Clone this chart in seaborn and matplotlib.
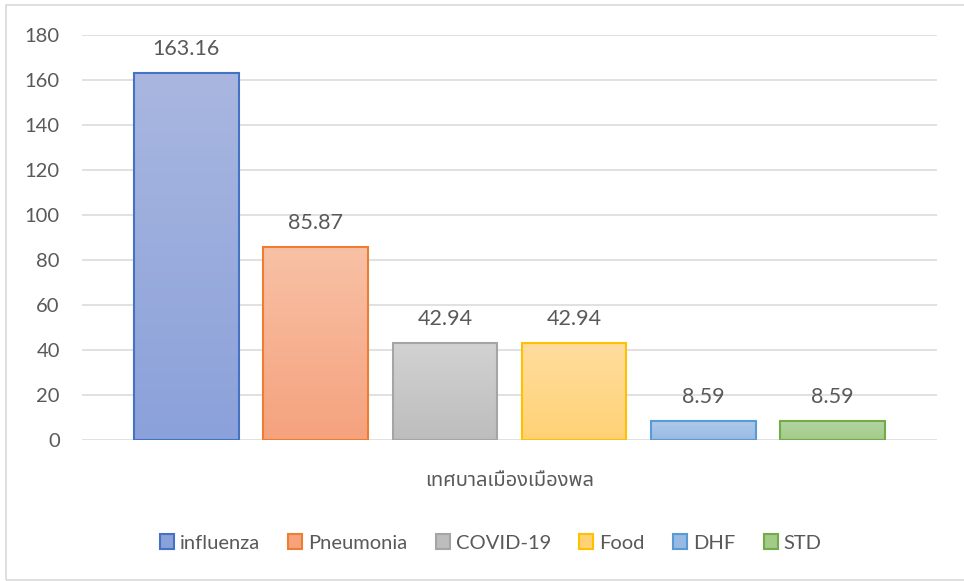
import numpy as np
import pandas as pd
import matplotlib
matplotlib.use("Agg")
import matplotlib.pyplot as plt
from matplotlib.colors import LinearSegmentedColormap
from matplotlib.patches import Patch, Rectangle
import seaborn as sns

# data
category = ["เทศบาลเมืองเมืองพล"]
diseases = ["influenza", "Pneumonia", "COVID-19", "Food", "DHF", "STD"]
rates = [163.16, 85.87, 42.94, 42.94, 8.59, 8.59]

edge_colors = ["#4472C4", "#ED7D31", "#A5A5A5", "#FFC000", "#5B9BD5", "#70AD47"]
top_colors = ["#A9B7E0", "#F8C1A6", "#D2D2D2", "#FFDD9E", "#B1CBEB", "#B5D5A3"]
bottom_colors = ["#8BA1DA", "#F5A27D", "#BDBDBD", "#FFD275", "#98BAE3", "#A2CA89"]

text_color = "#595959"
grid_color = "#D9D9D9"

df = pd.DataFrame({"area": category * len(diseases),
                   "disease": diseases,
                   "rate": rates})

sns.set_theme(style="white")
plt.rcParams["font.family"] = ["Lato", "Noto Sans Thai", "Loma", "Garuda",
                               "Norasi", "DejaVu Sans"]

fig = plt.figure(figsize=(9.64, 5.81), dpi=100)
ax = fig.add_axes([0.0851, 0.2427, 0.972 - 0.0851, 0.6971])

sns.barplot(data=df, x="area", y="rate", hue="disease", hue_order=diseases,
            palette=bottom_colors, width=0.907, gap=0.19, legend=False,
            ax=ax)

ax.yaxis.grid(True, color=grid_color, linewidth=1.1)
ax.set_axisbelow(True)
for s in ax.spines.values():
    s.set_visible(False)

# gradient fill inside each bar (lighter at the top)
for i, cont in enumerate(ax.containers):
    for bar in cont:
        x, w, h = bar.get_x(), bar.get_width(), bar.get_height()
        cmap = LinearSegmentedColormap.from_list(
            "g%d" % i, [bottom_colors[i], top_colors[i]])
        grad = np.linspace(0, 1, 256).reshape(-1, 1)
        im = ax.imshow(grad, cmap=cmap, origin="lower", aspect="auto",
                       extent=[x, x + w, 0, h], zorder=1.5)
        im.set_clip_path(bar)
        bar.set_facecolor("none")
        bar.set_edgecolor(edge_colors[i])
        bar.set_linewidth(1.5)
        bar.set_zorder(2)
    ax.bar_label(cont, labels=["%.2f" % v for v in cont.datavalues],
                 padding=10, fontsize=15.5, color=text_color)

ax.set_ylim(0, 180)
ax.set_xlim(-0.5, 0.5)
ax.set_yticks(range(0, 181, 20))
ax.tick_params(axis="y", length=0, pad=16, labelsize=14.5,
               labelcolor=text_color)
ax.tick_params(axis="x", length=0, pad=23, labelsize=14.5,
               labelcolor=text_color)
ax.set_xlabel("")
ax.set_ylabel("")

handles = [Patch(facecolor=bottom_colors[i], edgecolor=edge_colors[i],
                 linewidth=1.5, label=d) for i, d in enumerate(diseases)]
fig.legend(handles=handles, loc="center", ncol=6,
           bbox_to_anchor=(0.509, 0.0654), frameon=False,
           fontsize=14.5, labelcolor=text_color, handlelength=0.7,
           handleheight=0.7, handletextpad=0.3, columnspacing=1.4)

# outer chart border
fig.patches.append(Rectangle((6 / 964, 1 / 581), 1.2, 575 / 581,
                             transform=fig.transFigure, fill=False,
                             edgecolor=grid_color, linewidth=1.2))

fig.savefig("out.png", dpi=100)
